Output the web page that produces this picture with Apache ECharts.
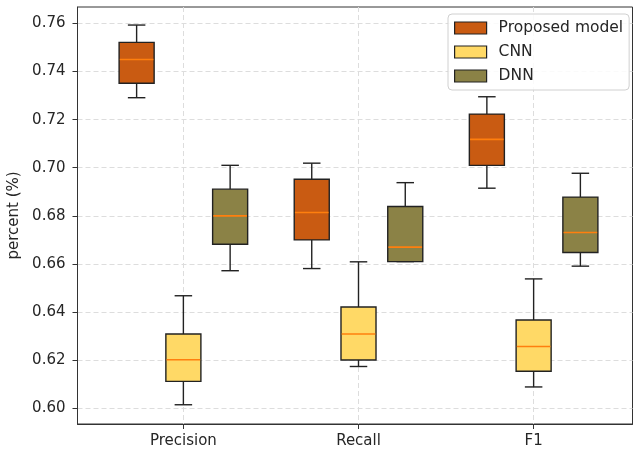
<!DOCTYPE html>
<html>
<head>
<meta charset="utf-8">
<script src="https://cdn.jsdelivr.net/npm/echarts@6/dist/echarts.min.js"></script>
<style>html,body{margin:0;padding:0;background:#fff}#chart{width:637px;height:454px}</style>
</head>
<body>
<div id="chart"></div>
<script>
// Categories and tick labels
const categories = ['Precision', 'Recall', 'F1'];
const yTicks = [0.60, 0.62, 0.64, 0.66, 0.68, 0.70, 0.72, 0.74, 0.76];
const seriesNames = ['Proposed model', 'CNN', 'DNN'];

// Box statistics per category: [lower whisker, Q1, median, Q3, upper whisker]
const proposedStats = [
  [0.7291, 0.7351, 0.7450, 0.7521, 0.7593],
  [0.6581, 0.6700, 0.6814, 0.6952, 0.7019],
  [0.6915, 0.7010, 0.7118, 0.7223, 0.7295]
];
const cnnStats = [
  [0.6015, 0.6112, 0.6202, 0.6309, 0.6468],
  [0.6174, 0.6201, 0.6309, 0.6421, 0.6609],
  [0.6089, 0.6154, 0.6257, 0.6367, 0.6538]
];
const dnnStats = [
  [0.6572, 0.6682, 0.6800, 0.6911, 0.7010],
  [0.6610, 0.6610, 0.6670, 0.6839, 0.6938],
  [0.6591, 0.6648, 0.6731, 0.6878, 0.6977]
];

const colors = ['#c95b12', '#ffd966', '#8b8246'];
const offsets = [-0.267, 0, 0.267];
const BOX_W = 0.2;
const CAP_W = 0.1;
const FONT = '"DejaVu Sans", "Liberation Sans", sans-serif';

function buildData(stats, off) {
  return stats.map((s, i) => [i + 1 + off].concat(s));
}

function makeRender(color) {
  return function (params, api) {
    const x = api.value(0);
    const lo = api.value(1), q1 = api.value(2), med = api.value(3), q3 = api.value(4), hi = api.value(5);
    const xc = api.coord([x, med])[0];
    const xl = api.coord([x - BOX_W / 2, med])[0];
    const xr = api.coord([x + BOX_W / 2, med])[0];
    const cl = api.coord([x - CAP_W / 2, med])[0];
    const cr = api.coord([x + CAP_W / 2, med])[0];
    const yLo = api.coord([x, lo])[1];
    const yQ1 = api.coord([x, q1])[1];
    const yMed = api.coord([x, med])[1];
    const yQ3 = api.coord([x, q3])[1];
    const yHi = api.coord([x, hi])[1];
    const lineStyle = { stroke: '#222', lineWidth: 1.4, fill: null };
    return {
      type: 'group',
      children: [
        { type: 'line', shape: { x1: xc, y1: yLo, x2: xc, y2: yQ1 }, style: lineStyle },
        { type: 'line', shape: { x1: xc, y1: yQ3, x2: xc, y2: yHi }, style: lineStyle },
        { type: 'line', shape: { x1: cl, y1: yLo, x2: cr, y2: yLo }, style: lineStyle },
        { type: 'line', shape: { x1: cl, y1: yHi, x2: cr, y2: yHi }, style: lineStyle },
        { type: 'rect', shape: { x: xl, y: yQ3, width: xr - xl, height: yQ1 - yQ3 },
          style: { fill: color, stroke: '#222', lineWidth: 1.4 } },
        { type: 'line', shape: { x1: xl + 0.7, y1: yMed, x2: xr - 0.7, y2: yMed },
          style: { stroke: '#ff7f0e', lineWidth: 1.6 } }
      ]
    };
  };
}

const allStats = [proposedStats, cnnStats, dnnStats];
const series = allStats.map((st, k) => ({
  name: seriesNames[k],
  type: 'custom',
  renderItem: makeRender(colors[k]),
  itemStyle: { color: colors[k], borderColor: '#222', borderWidth: 1.2 },
  encode: { x: 0, y: [1, 2, 3, 4, 5] },
  data: buildData(st, offsets[k]),
  clip: false,
  z: 5
}));

const chart = echarts.init(document.getElementById('chart'), null, { renderer: 'canvas' });
chart.setOption({
  animation: false,
  backgroundColor: '#fff',
  grid: {
    left: 77.5, right: 4.5, top: 7, bottom: 30,
    containLabel: false,
    outerBoundsMode: 'none',
    show: true, borderColor: '#333', borderWidth: 1, backgroundColor: 'transparent'
  },
  legend: {
    data: seriesNames.map((n, k) => ({ name: n, icon: 'rect', itemStyle: { color: colors[k], borderColor: '#222', borderWidth: 1.2 } })),
    orient: 'vertical',
    left: 448, top: 14,
    itemWidth: 32, itemHeight: 12, itemGap: 6,
    padding: [5, 6, 5, 6],
    backgroundColor: 'rgba(255,255,255,0.85)',
    borderColor: '#d0d0d0', borderWidth: 1, borderRadius: 4,
    textStyle: { fontFamily: FONT, fontSize: 15.5, color: '#262626', lineHeight: 18, padding: [0, 0, 0, 7] }
  },
  xAxis: {
    type: 'value',
    min: 0.3954, max: 3.5646,
    axisLine: { show: true, lineStyle: { color: '#333', width: 1 } },
    axisTick: { show: true, length: 5, lineStyle: { color: '#333' }, customValues: [1, 2, 3] },
    axisLabel: {
      customValues: [1, 2, 3],
      formatter: v => categories[Math.round(v) - 1] || '',
      fontFamily: FONT, fontSize: 15, color: '#262626', margin: 10
    },
    splitLine: { show: true, lineStyle: { type: [5, 3], color: '#dddddd', width: 1 } }
  },
  yAxis: {
    type: 'value',
    min: 0.5935, max: 0.7668,
    name: 'percent (%)',
    nameLocation: 'middle',
    nameRotate: 90,
    nameGap: 53,
    nameTextStyle: { fontFamily: FONT, fontSize: 15, color: '#262626' },
    axisLine: { show: true, lineStyle: { color: '#333', width: 1 } },
    axisTick: { show: true, length: 5, lineStyle: { color: '#333' }, customValues: yTicks },
    axisLabel: {
      customValues: yTicks,
      formatter: v => v.toFixed(2),
      fontFamily: FONT, fontSize: 15, color: '#262626', margin: 12
    },
    splitLine: { show: true, lineStyle: { type: [5, 3], color: '#dddddd', width: 1 } }
  },
  series: series
});
</script>
</body>
</html>
